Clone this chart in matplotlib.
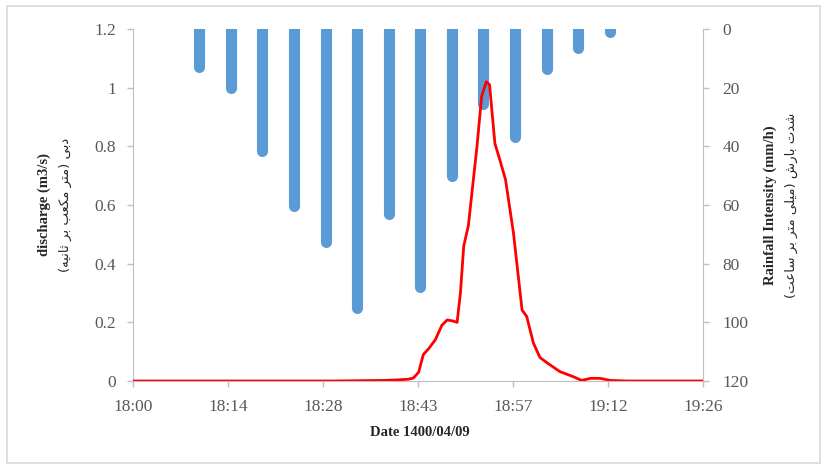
import matplotlib
matplotlib.use("Agg")
import matplotlib.pyplot as plt
from matplotlib.patches import Rectangle

# discharge hydrograph (minutes after 18:00, m3/s)
flow_minutes = [0, 30, 38, 40, 41.5, 42.3, 43.1, 43.8, 44.6, 45.6, 46.6, 47.4, 48.2, 48.9,
                49.4, 49.9, 50.6, 51.9, 52.6, 53.3, 53.8, 54.6, 55.4, 56.2, 57.4, 58.7,
                59.4, 60.4, 61.4, 62.6, 64.4, 66.4, 67.7, 69.0, 70.5, 72.0, 74.5, 86]
discharge = [0, 0, 0.002, 0.004, 0.006, 0.01, 0.03, 0.09, 0.11, 0.14, 0.19, 0.208, 0.205, 0.20,
             0.30, 0.46, 0.53, 0.80, 0.97, 1.02, 1.01, 0.81, 0.75, 0.687, 0.505, 0.242,
             0.22, 0.13, 0.08, 0.06, 0.032, 0.015, 0.002, 0.009, 0.009, 0.002, 0, 0]

# rainfall intensity (mm/h)
rain_minutes = [10.0, 14.8, 19.5, 24.3, 29.1, 33.8, 38.6, 43.3, 48.1, 52.8, 57.7, 62.4, 67.2, 71.9]
rain_intensity = [13, 20, 41.5, 60.5, 72.5, 95, 63, 88, 50, 25.7, 36.7, 13.5, 6.6, 1.0]

x_ticks = [0, 14.333, 28.667, 43, 57.333, 71.667, 86]
x_labels = ["18:00", "18:14", "18:28", "18:43", "18:57", "19:12", "19:26"]
q_ticks = [0, 0.2, 0.4, 0.6, 0.8, 1.0, 1.2]
q_labels = ["0", "0.2", "0.4", "0.6", "0.8", "1", "1.2"]
r_ticks = [0, 20, 40, 60, 80, 100, 120]

label_q_en = "discharge (m3/s)"
label_q_fa = "دبی (متر مکعب بر ثانیه)"
label_r_en = "Rainfall Intensity (mm/h)"
label_r_fa = "شدت بارش (میلی متر بر ساعت)"
label_x = "Date 1400/04/09"

# minimal Persian shaping (isolated, final, initial, medial) since matplotlib does not shape
FORMS = {
    "ا": ("\uFE8D", "\uFE8E", None, None),
    "د": ("\uFEA9", "\uFEAA", None, None),
    "ر": ("\uFEAD", "\uFEAE", None, None),
    "ب": ("\uFE8F", "\uFE90", "\uFE91", "\uFE92"),
    "ت": ("\uFE95", "\uFE96", "\uFE97", "\uFE98"),
    "ث": ("\uFE99", "\uFE9A", "\uFE9B", "\uFE9C"),
    "س": ("\uFEB1", "\uFEB2", "\uFEB3", "\uFEB4"),
    "ش": ("\uFEB5", "\uFEB6", "\uFEB7", "\uFEB8"),
    "ع": ("\uFEC9", "\uFECA", "\uFECB", "\uFECC"),
    "ل": ("\uFEDD", "\uFEDE", "\uFEDF", "\uFEE0"),
    "م": ("\uFEE1", "\uFEE2", "\uFEE3", "\uFEE4"),
    "ن": ("\uFEE5", "\uFEE6", "\uFEE7", "\uFEE8"),
    "ه": ("\uFEE9", "\uFEEA", "\uFEEB", "\uFEEC"),
    "ک": ("\uFB8E", "\uFB8F", "\uFB90", "\uFB91"),
    "ی": ("\uFBFC", "\uFBFD", "\uFBFE", "\uFBFF"),
}


def shape(text):
    out = []
    for i, ch in enumerate(text):
        if ch not in FORMS:
            out.append(ch)
            continue
        prev = text[i - 1] if i > 0 else ""
        nxt = text[i + 1] if i + 1 < len(text) else ""
        f = FORMS[ch]
        join_prev = prev in FORMS and FORMS[prev][2] is not None
        join_next = nxt in FORMS and f[2] is not None
        if join_prev and join_next:
            out.append(f[3])
        elif join_prev:
            out.append(f[1])
        elif join_next:
            out.append(f[2])
        else:
            out.append(f[0])
    vis = "".join(reversed(out))
    return vis.translate(str.maketrans("()", ")("))


serif = "Liberation Serif"
grey = "#595959"
spine = "#BFBFBF"

fig = plt.figure(figsize=(8.24, 4.66), dpi=100)
ax = fig.add_axes([133 / 824, 1 - 381 / 466, 570 / 824, 352 / 466])
ax2 = ax.twinx()

# rainfall bars hanging from the top
bars = ax2.vlines(rain_minutes, 0, rain_intensity, colors="#5B9BD5", linewidth=8)
bars.set_capstyle("round")
ax2.set_ylim(120, 0)

ax.plot(flow_minutes, discharge, color="#FF0000", linewidth=2, zorder=5)
ax.set_zorder(ax2.get_zorder() + 1)
ax.patch.set_visible(False)

ax.set_xlim(0, 86)
ax.set_ylim(0, 1.2)
ax.set_xticks(x_ticks)
ax.set_xticklabels(x_labels)
ax.set_yticks(q_ticks)
ax.set_yticklabels(q_labels)
ax2.set_yticks(r_ticks)

for a in (ax, ax2):
    for s in a.spines.values():
        s.set_visible(False)
    a.tick_params(colors=spine, labelcolor=grey, length=4, width=1, labelsize=12.5)
    for lab in a.get_xticklabels() + a.get_yticklabels():
        lab.set_family(serif)
ax.spines["left"].set_visible(True)
ax.spines["left"].set_color(spine)
ax.spines["bottom"].set_visible(True)
ax.spines["bottom"].set_color(spine)
ax2.spines["right"].set_visible(True)
ax2.spines["right"].set_color(spine)
ax.tick_params(axis="x", pad=9)
ax.tick_params(axis="y", pad=8)
ax2.tick_params(axis="y", pad=10)

# axis titles: English bold serif line, Persian line below it
fig.text(44 / 824, 1 - 205 / 466, label_q_en, rotation=90, ha="center", va="center",
         family=serif, fontweight="bold", fontsize=10.5, color="#262626")
fig.text(65 / 824, 1 - 205 / 466, shape(label_q_fa), rotation=90, ha="center", va="center",
         family=["DejaVu Sans"], fontsize=9.5, color="#262626")
fig.text(770 / 824, 1 - 205 / 466, label_r_en, rotation=90, ha="center", va="center",
         family=serif, fontweight="bold", fontsize=10.5, color="#262626")
fig.text(791 / 824, 1 - 205 / 466, shape(label_r_fa), rotation=90, ha="center", va="center",
         family=["DejaVu Sans"], fontsize=9.5, color="#262626")
fig.text(420 / 824, 1 - 433 / 466, label_x, ha="center", va="center",
         family=serif, fontweight="bold", fontsize=10.5, color="#262626")

# light frame around the chart area
fig.patches.append(Rectangle((7 / 824, 3 / 466), 813 / 824, 457 / 466, transform=fig.transFigure,
                             fill=False, edgecolor="#D9D9D9", linewidth=1.2))

fig.savefig("out.png", dpi=100)
